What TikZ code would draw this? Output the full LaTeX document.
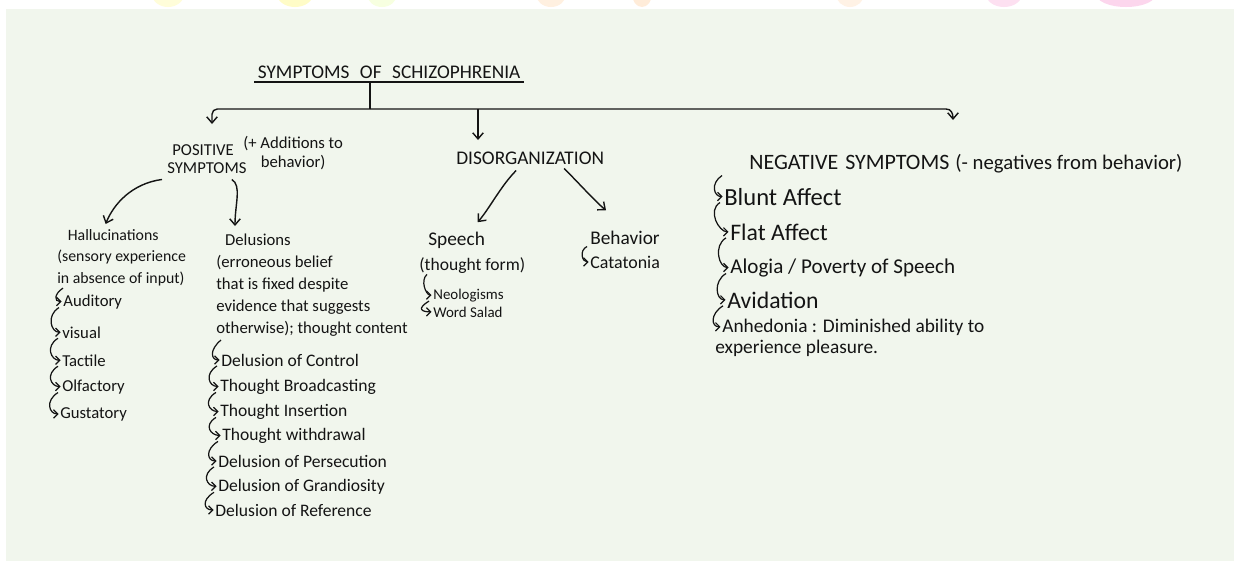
\documentclass[tikz,border=0pt]{standalone}
\usepackage{fontspec}
\setmainfont{Carlito}
\usetikzlibrary{arrows.meta,positioning,calc}
\definecolor{panel}{RGB}{241,246,237}
\definecolor{ink}{RGB}{20,20,20}

\tikzset{
    arr/.style={draw=ink, line width=0.8pt, -{Straight Barb[length=3.5pt,width=6pt]}},
    hookarr/.style={draw=ink, line width=0.7pt, shorten >=0.8pt,
        -{Straight Barb[length=2.4pt,width=4.8pt]}},
    % text on the page
    lbl/.style={text=ink, inner sep=0pt, anchor=base west},
    hdr/.style={lbl, anchor=north west, align=left},
    capsbig/.style={lbl, font=\fontsize{12.5}{14}\selectfont},
    caps/.style={lbl, font=\fontsize{11}{13}\selectfont},
    capssm/.style={lbl, font=\fontsize{9.5}{11}\selectfont},
    item/.style={lbl, font=\fontsize{10}{12}\selectfont},
    itemsm/.style={lbl, font=\fontsize{8.5}{10}\selectfont},
    negitem/.style={lbl, font=\fontsize{13.5}{15}\selectfont}
}

\begin{document}
\begin{tikzpicture}[x=0.02cm, y=-0.02cm]
  % page and panel
  \useasboundingbox (0,0) rectangle (1234,565);
  \fill[white] (0,0) rectangle (1234,565);
  \fill[panel] (6,9) rectangle (1234,561);
  \begin{scope}
    \clip (0,0) rectangle (1234,9);
    \fill[yellow!15] (168,-6) ellipse (16 and 13);
    \fill[yellow!22] (295,-6) ellipse (18 and 13);
    \fill[lime!12] (382,-6) ellipse (15 and 13);
    \fill[orange!12] (551,-6) ellipse (15 and 13);
    \fill[orange!15] (642,-6) ellipse (10 and 13);
    \fill[orange!10] (850,-6) ellipse (14 and 13);
    \fill[magenta!12] (1004,-6) ellipse (18 and 13);
    \fill[magenta!16] (1126,-6) ellipse (30 and 13);
  \end{scope}

  % title and the bar
  \node (title) [caps, inner sep=2pt, font=\fontsize{11}{13}\selectfont] at (254,78)
      {SYMPTOMS\hspace{6pt}OF\hspace{6pt}SCHIZOPHRENIA};
  \draw[ink, line width=0.8pt] (title.south west) -- (title.south east);
  \coordinate (hub) at (370,109);
  \coordinate (posin) at (212,124);
  \coordinate (disin) at (478,140);
  \coordinate (negin) at (953,120);
  \draw[ink, line width=0.8pt] (hub |- title.south) -- (hub);
  \draw[arr, rounded corners=3pt] (hub) -| (posin);
  \draw[arr] (hub -| disin) -- (disin);
  \draw[arr] (hub) -- (946,109) .. controls (951,109) and (953,113) .. (negin);

  % positive symptoms
  \node (pos) [capssm] at (172,155) {POSITIVE};
  \node (possym) [capssm] at (167,173) {SYMPTOMS};
  \node (posnote) [hdr, align=center, font=\fontsize{9.5}{10.5}\selectfont] at (243,136)
      {(+ Additions to\\behavior)};

  \node (hal) [hdr, font=\fontsize{9}{12.2}\selectfont] at (57,229)
      {\hspace*{6pt}Hallucinations\\(sensory experience\\in absence of input)};
  \node (hal1) [item, font=\fontsize{9.5}{11}\selectfont] at (63,306) {Auditory};
  \node (hal2) [item, font=\fontsize{9.5}{11}\selectfont] at (62,338) {visual};
  \node (hal3) [item, font=\fontsize{9.5}{11}\selectfont] at (62,366) {Tactile};
  \node (hal4) [item, font=\fontsize{9.5}{11}\selectfont] at (62,391) {Olfactory};
  \node (hal5) [item, font=\fontsize{9.5}{11}\selectfont] at (60,418) {Gustatory};

  \node (del) [hdr, font=\fontsize{9.5}{12.5}\selectfont] at (216,234)
      {\hspace*{5pt}Delusions\\(erroneous belief\\that is fixed despite\\evidence that suggests\\otherwise); thought content};
  \node (del1) [item] at (221,366) {Delusion of Control};
  \node (del2) [item] at (220,391) {Thought Broadcasting};
  \node (del3) [item] at (220,416) {Thought Insertion};
  \node (del4) [item] at (222,440) {Thought withdrawal};
  \node (del5) [item] at (218,467) {Delusion of Persecution};
  \node (del6) [item] at (218,491) {Delusion of Grandiosity};
  \node (del7) [item] at (215,516) {Delusion of Reference};

  \draw[arr] ($(possym.south west)+(-5,6)$) .. controls +(-30,4) and +(8,-20) .. ($(hal.north)+(-16,-5)$);
  \draw[arr] ($(possym.south east)+(-15,6)$) .. controls +(10,6) and +(0,-22) .. ($(del.north west)+(19,-8)$);

  % disorganization
  \node (dis) [caps] at (456,164) {DISORGANIZATION};
  \node (speech) [lbl, font=\fontsize{11}{13}\selectfont] at (428,245) {Speech};
  \node (speechnote) [lbl, font=\fontsize{10}{12}\selectfont] at (419,270) {(thought form)};
  \node (neo) [itemsm] at (433,299) {Neologisms};
  \node (word) [itemsm] at (433,317) {Word Salad};
  \node (beh) [lbl, font=\fontsize{11}{13}\selectfont] at (590,244) {Behavior};
  \node (cat) [lbl, font=\fontsize{10.2}{12}\selectfont] at (590,268) {Catatonia};

  \draw[arr] ($(dis.south)+(-14,6)$) .. controls +(-15,15) and +(12,-14) .. ($(speech.north)+(21,-9)$);
  \draw[arr] ($(dis.south)+(34,4)$) .. controls +(14,14) and +(-10,-8) .. ($(beh.north west)+(16,-20)$);

  % negative symptoms
  \node (neg) [capsbig] at (749,169) {NEGATIVE\hspace{4pt}SYMPTOMS};
  \node (negnote) [lbl, font=\fontsize{11.8}{13}\selectfont, base right=3pt of neg]
      {(- negatives from behavior)};
  \node (neg1) [negitem, font=\fontsize{14}{15}\selectfont] at (724,205) {Blunt Affect};
  \node (neg2) [negitem] at (730,240) {Flat Affect};
  \node (neg3) [negitem, font=\fontsize{12}{13}\selectfont] at (730,273) {Alogia / Poverty of Speech};
  \node (neg4) [negitem] at (727,308) {Avidation};
  \node (neg5) [negitem, font=\fontsize{11}{13}\selectfont] at (722,332) {Anhedonia : Diminished ability to};
  \node (neg5b) [negitem, font=\fontsize{11}{13}\selectfont] at (715,353) {experience pleasure.};

  % hooked arrows of the lists
  \draw[hookarr] ($(hal.south west)+(6,2)$) .. controls +(-9,6) and +(-9,0) .. (hal1.west);
  \draw[hookarr] ($(del.south west)+(5,3)$) .. controls +(-12,10) and +(-10,0) .. (del1.west);
  \draw[hookarr] ($(speechnote.south west)+(8,1)$) .. controls +(-7,6) and +(-7,0) .. (neo.west);
  \draw[hookarr] ($(beh.south west)+(-3,2)$) .. controls +(-8,4) and +(-8,0) .. (cat.west);
  \draw[hookarr] ($(neg.south west)+(-27,6)$) .. controls +(-12,8) and +(-10,0) .. (neg1.west);
  \foreach \a/\b in {hal1/hal2, hal2/hal3, hal3/hal4, hal4/hal5,
      del1/del2, del2/del3, del3/del4, del4/del5, del5/del6, del6/del7,
      neo/word, neg1/neg2, neg2/neg3, neg3/neg4, neg4/neg5}
    \draw[hookarr] ($(\a.west)+(-4,6)$) .. controls +(-13,8) and +(-11,0) .. (\b.west);
\end{tikzpicture}
\end{document}
